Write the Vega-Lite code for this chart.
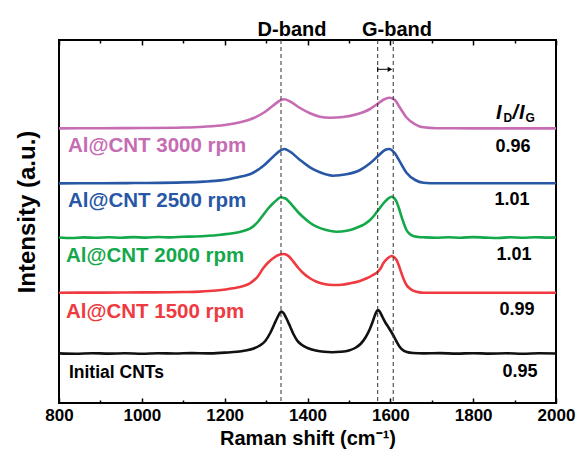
{
  "$schema": "https://vega.github.io/schema/vega-lite/v6.json",
  "width": 497,
  "height": 363,
  "autosize": {"type": "none"},
  "padding": {"left": 59, "top": 40, "right": 21, "bottom": 52},
  "background": "white",
  "config": {
    "view": {"stroke": "#000", "strokeWidth": 2},
    "font": "Liberation Sans",
    "axis": {"labelFont": "Liberation Sans", "titleFont": "Liberation Sans", "labelFontWeight": "bold", "titleFontWeight": "bold", "labelColor": "#000", "titleColor": "#000", "tickColor": "#000", "tickWidth": 1.5, "grid": false, "domain": false}
  },
  "datasets": {
    "curves": [
      {"s":"p","x":800,"y":274.6},{"s":"p","x":900,"y":274.8},{"s":"p","x":1000,"y":275.0},{"s":"p","x":1100,"y":275.5},{"s":"p","x":1150,"y":276.3},{"s":"p","x":1200,"y":278.0},{"s":"p","x":1240,"y":281.0},{"s":"p","x":1270,"y":285.0},{"s":"p","x":1295,"y":290.5},{"s":"p","x":1317,"y":297.5},{"s":"p","x":1334,"y":302.5},{"s":"p","x":1344,"y":303.7},{"s":"p","x":1358,"y":301.5},{"s":"p","x":1382,"y":295.0},{"s":"p","x":1406,"y":289.7},{"s":"p","x":1430,"y":286.3},{"s":"p","x":1454,"y":285.3},{"s":"p","x":1486,"y":286.0},{"s":"p","x":1519,"y":288.7},{"s":"p","x":1551,"y":294.0},{"s":"p","x":1571,"y":299.7},{"s":"p","x":1587,"y":304.0},{"s":"p","x":1599,"y":305.3},{"s":"p","x":1611,"y":303.0},{"s":"p","x":1623,"y":295.5},{"s":"p","x":1639,"y":285.5},{"s":"p","x":1660,"y":278.7},{"s":"p","x":1680,"y":275.7},{"s":"p","x":1712,"y":274.8},{"s":"p","x":1750,"y":274.7},{"s":"p","x":1850,"y":274.6},{"s":"p","x":2000,"y":274.6},
      {"s":"b","x":800,"y":219.6},{"s":"b","x":900,"y":219.8},{"s":"b","x":1000,"y":220.0},{"s":"b","x":1100,"y":220.6},{"s":"b","x":1150,"y":221.4},{"s":"b","x":1190,"y":222.6},{"s":"b","x":1213,"y":224.0},{"s":"b","x":1240,"y":226.5},{"s":"b","x":1261,"y":228.7},{"s":"b","x":1293,"y":237.0},{"s":"b","x":1317,"y":246.3},{"s":"b","x":1334,"y":252.3},{"s":"b","x":1344,"y":254.0},{"s":"b","x":1358,"y":251.3},{"s":"b","x":1382,"y":243.0},{"s":"b","x":1406,"y":235.7},{"s":"b","x":1430,"y":230.7},{"s":"b","x":1461,"y":227.3},{"s":"b","x":1494,"y":228.7},{"s":"b","x":1527,"y":233.0},{"s":"b","x":1551,"y":239.7},{"s":"b","x":1571,"y":247.3},{"s":"b","x":1587,"y":253.0},{"s":"b","x":1597,"y":254.0},{"s":"b","x":1611,"y":249.7},{"s":"b","x":1623,"y":241.3},{"s":"b","x":1639,"y":230.3},{"s":"b","x":1660,"y":223.0},{"s":"b","x":1680,"y":220.3},{"s":"b","x":1712,"y":219.7},{"s":"b","x":1800,"y":219.7},{"s":"b","x":2000,"y":219.7},
      {"s":"g","x":800,"y":165.5},{"s":"g","x":830,"y":165.0},{"s":"g","x":860,"y":165.6},{"s":"g","x":890,"y":165.2},{"s":"g","x":920,"y":165.8},{"s":"g","x":950,"y":165.3},{"s":"g","x":980,"y":165.9},{"s":"g","x":1010,"y":165.4},{"s":"g","x":1040,"y":166.0},{"s":"g","x":1070,"y":165.6},{"s":"g","x":1100,"y":166.2},{"s":"g","x":1130,"y":166.5},{"s":"g","x":1160,"y":167.2},{"s":"g","x":1190,"y":168.3},{"s":"g","x":1220,"y":169.7},{"s":"g","x":1245,"y":172.0},{"s":"g","x":1261,"y":174.3},{"s":"g","x":1280,"y":181.0},{"s":"g","x":1293,"y":188.0},{"s":"g","x":1305,"y":194.5},{"s":"g","x":1317,"y":199.7},{"s":"g","x":1327,"y":203.5},{"s":"g","x":1335,"y":205.7},{"s":"g","x":1341,"y":205.2},{"s":"g","x":1346,"y":204.7},{"s":"g","x":1355,"y":201.5},{"s":"g","x":1366,"y":196.3},{"s":"g","x":1378,"y":190.5},{"s":"g","x":1390,"y":185.7},{"s":"g","x":1405,"y":180.5},{"s":"g","x":1422,"y":176.3},{"s":"g","x":1445,"y":173.0},{"s":"g","x":1470,"y":171.3},{"s":"g","x":1495,"y":172.2},{"s":"g","x":1519,"y":175.3},{"s":"g","x":1537,"y":178.7},{"s":"g","x":1551,"y":183.0},{"s":"g","x":1562,"y":188.0},{"s":"g","x":1571,"y":193.0},{"s":"g","x":1582,"y":199.0},{"s":"g","x":1591,"y":203.0},{"s":"g","x":1603,"y":206.3},{"s":"g","x":1609,"y":205.0},{"s":"g","x":1615,"y":201.3},{"s":"g","x":1621,"y":194.5},{"s":"g","x":1627,"y":186.3},{"s":"g","x":1633,"y":179.0},{"s":"g","x":1639,"y":173.0},{"s":"g","x":1647,"y":169.0},{"s":"g","x":1655,"y":167.0},{"s":"g","x":1668,"y":166.0},{"s":"g","x":1680,"y":165.7},{"s":"g","x":1710,"y":165.2},{"s":"g","x":1740,"y":165.8},{"s":"g","x":1770,"y":165.3},{"s":"g","x":1800,"y":165.9},{"s":"g","x":1830,"y":165.4},{"s":"g","x":1860,"y":165.0},{"s":"g","x":1890,"y":165.7},{"s":"g","x":1920,"y":165.2},{"s":"g","x":1950,"y":165.8},{"s":"g","x":1980,"y":165.4},{"s":"g","x":2000,"y":165.6},
      {"s":"r","x":800,"y":110.3},{"s":"r","x":900,"y":110.4},{"s":"r","x":1000,"y":110.6},{"s":"r","x":1100,"y":111.0},{"s":"r","x":1140,"y":111.4},{"s":"r","x":1180,"y":112.5},{"s":"r","x":1220,"y":114.7},{"s":"r","x":1245,"y":117.0},{"s":"r","x":1261,"y":119.7},{"s":"r","x":1280,"y":126.5},{"s":"r","x":1293,"y":134.7},{"s":"r","x":1305,"y":140.5},{"s":"r","x":1317,"y":144.7},{"s":"r","x":1330,"y":148.0},{"s":"r","x":1343,"y":149.0},{"s":"r","x":1354,"y":147.0},{"s":"r","x":1366,"y":141.3},{"s":"r","x":1378,"y":135.0},{"s":"r","x":1390,"y":129.7},{"s":"r","x":1405,"y":125.0},{"s":"r","x":1422,"y":121.3},{"s":"r","x":1440,"y":119.0},{"s":"r","x":1462,"y":118.0},{"s":"r","x":1483,"y":118.3},{"s":"r","x":1503,"y":119.7},{"s":"r","x":1525,"y":121.8},{"s":"r","x":1543,"y":124.7},{"s":"r","x":1558,"y":128.0},{"s":"r","x":1570,"y":131.3},{"s":"r","x":1577,"y":135.0},{"s":"r","x":1583,"y":139.7},{"s":"r","x":1593,"y":144.5},{"s":"r","x":1603,"y":147.0},{"s":"r","x":1610,"y":145.5},{"s":"r","x":1615,"y":143.0},{"s":"r","x":1621,"y":137.0},{"s":"r","x":1627,"y":129.7},{"s":"r","x":1633,"y":123.0},{"s":"r","x":1639,"y":118.0},{"s":"r","x":1647,"y":114.5},{"s":"r","x":1655,"y":112.3},{"s":"r","x":1668,"y":110.9},{"s":"r","x":1680,"y":110.3},{"s":"r","x":1800,"y":110.3},{"s":"r","x":2000,"y":110.3},
      {"s":"k","x":800,"y":49.6},{"s":"k","x":840,"y":49.3},{"s":"k","x":880,"y":49.8},{"s":"k","x":920,"y":49.4},{"s":"k","x":960,"y":49.7},{"s":"k","x":1000,"y":49.3},{"s":"k","x":1040,"y":49.8},{"s":"k","x":1080,"y":49.5},{"s":"k","x":1120,"y":49.9},{"s":"k","x":1160,"y":49.6},{"s":"k","x":1200,"y":50.4},{"s":"k","x":1230,"y":51.2},{"s":"k","x":1250,"y":52.5},{"s":"k","x":1270,"y":54.5},{"s":"k","x":1285,"y":57.5},{"s":"k","x":1298,"y":62.0},{"s":"k","x":1310,"y":70.0},{"s":"k","x":1320,"y":79.0},{"s":"k","x":1328,"y":86.0},{"s":"k","x":1333,"y":90.0},{"s":"k","x":1337,"y":91.5},{"s":"k","x":1342,"y":90.0},{"s":"k","x":1348,"y":85.5},{"s":"k","x":1357,"y":77.5},{"s":"k","x":1366,"y":69.0},{"s":"k","x":1375,"y":62.5},{"s":"k","x":1385,"y":58.5},{"s":"k","x":1400,"y":55.0},{"s":"k","x":1420,"y":52.5},{"s":"k","x":1440,"y":51.2},{"s":"k","x":1460,"y":50.8},{"s":"k","x":1480,"y":51.2},{"s":"k","x":1500,"y":52.5},{"s":"k","x":1515,"y":55.0},{"s":"k","x":1528,"y":59.0},{"s":"k","x":1540,"y":65.5},{"s":"k","x":1550,"y":73.5},{"s":"k","x":1558,"y":82.0},{"s":"k","x":1564,"y":89.0},{"s":"k","x":1570,"y":92.9},{"s":"k","x":1575,"y":91.0},{"s":"k","x":1581,"y":86.0},{"s":"k","x":1588,"y":80.5},{"s":"k","x":1595,"y":76.0},{"s":"k","x":1601,"y":72.0},{"s":"k","x":1608,"y":67.0},{"s":"k","x":1615,"y":61.5},{"s":"k","x":1622,"y":56.5},{"s":"k","x":1630,"y":53.0},{"s":"k","x":1640,"y":51.0},{"s":"k","x":1655,"y":50.0},{"s":"k","x":1680,"y":49.6},{"s":"k","x":1720,"y":49.9},{"s":"k","x":1760,"y":49.4},{"s":"k","x":1800,"y":49.8},{"s":"k","x":1840,"y":49.4},{"s":"k","x":1880,"y":49.7},{"s":"k","x":1920,"y":49.3},{"s":"k","x":1960,"y":49.7},{"s":"k","x":2000,"y":49.5}
    ],
    "bands": [{"x": 1336}, {"x": 1569.5}, {"x": 1607}],
    "names": [
      {"s":"p","x":821.7,"y":251.3,"t":"Al@CNT 3000 rpm"},
      {"s":"b","x":821.7,"y":196.3,"t":"Al@CNT 2500 rpm"},
      {"s":"g","x":816.9,"y":140.7,"t":"Al@CNT 2000 rpm"},
      {"s":"r","x":816.9,"y":85.5,"t":"Al@CNT 1500 rpm"}
    ],
    "initial": [{"x": 824, "y": 25, "t": "Initial CNTs"}],
    "ratios": [
      {"x":1896.2,"y":251.3,"t":"0.96"},
      {"x":1893.8,"y":198,"t":"1.01"},
      {"x":1898.6,"y":143.5,"t":"1.01"},
      {"x":1905.8,"y":88,"t":"0.99"},
      {"x":1913.1,"y":26.4,"t":"0.95"}
    ],
    "bandnames": [{"x":1362.6,"y":367,"t":"D-band"},{"x":1616.1,"y":367,"t":"G-band"}],
    "ibig": [{"x":1855.2,"y":284,"t":"I"},{"x":1894.9,"y":284,"t":"/"},{"x":1910.7,"y":284,"t":"I"}],
    "isub": [{"x":1873.3,"y":281.5,"t":"D"},{"x":1926.3,"y":281.5,"t":"G"}],
    "arrow": [{"x": 1569.5, "x2": 1600, "y": 333.7}],
    "arrowtick": [{"x": 1569.5, "y": 331.3, "y2": 336.1}],
    "arrowhead": [{"x": 1599, "y": 333.7}]
  },
  "layer": [
    {
      "data": {"name": "curves"},
      "mark": {"type": "line", "strokeWidth": 2.6, "interpolate": "monotone"},
      "encoding": {
        "x": {"field": "x", "type": "quantitative", "scale": {"domain": [800, 2000], "nice": false, "zero": false},
              "axis": {"orient": "bottom", "values": [800, 1000, 1200, 1400, 1600, 1800, 2000], "format": "d", "tickSize": -5, "labelPadding": 9, "labelFontSize": 17, "title": "Raman shift (cm⁻¹)", "titleFontSize": 20, "titlePadding": 5, "labelFlush": false}},
        "y": {"field": "y", "type": "quantitative", "scale": {"domain": [0, 363], "nice": false, "zero": false},
              "axis": {"title": "Intensity (a.u.)", "ticks": false, "labels": false, "titleFontSize": 24, "titlePadding": 20, "titleY": 171.5}},
        "color": {"field": "s", "type": "nominal", "scale": {"domain": ["p", "b", "g", "r", "k"], "range": ["#C66CB3", "#2857A6", "#14A84B", "#EE3A40", "#111111"]}, "legend": null},
        "detail": {"field": "s"}
      }
    },
    {
      "data": {"name": "bands"},
      "mark": {"type": "rule", "color": "#333", "strokeWidth": 1, "strokeDash": [4, 3]},
      "encoding": {
        "x": {"field": "x", "type": "quantitative", "axis": {"orient": "bottom", "values": [900, 1100, 1300, 1500, 1700, 1900], "tickSize": -3, "labels": false, "title": null}}
      }
    },
    {
      "data": {"name": "bandnames"},
      "mark": {"type": "text", "fontSize": 20, "fontWeight": "bold", "align": "center", "baseline": "alphabetic", "color": "#000"},
      "encoding": {
        "x": {"field": "x", "type": "quantitative", "axis": {"orient": "top", "values": [800, 1000, 1200, 1400, 1600, 1800, 2000], "tickSize": -5, "labels": false, "title": null}},
        "y": {"field": "y", "type": "quantitative", "axis": {"title": "Intensity (a.u.)", "ticks": false, "labels": false, "titleFontSize": 24, "titlePadding": 20, "titleY": 171.5}},
        "text": {"field": "t"}
      }
    },
    {
      "data": {"name": "arrow"},
      "mark": {"type": "rule", "color": "#000", "strokeWidth": 1},
      "encoding": {
        "x": {"field": "x", "type": "quantitative", "axis": {"orient": "top", "values": [900, 1100, 1300, 1500, 1700, 1900], "tickSize": -3, "labels": false, "title": null}},
        "x2": {"field": "x2"},
        "y": {"field": "y", "type": "quantitative", "axis": {"title": "Intensity (a.u.)", "ticks": false, "labels": false, "titleFontSize": 24, "titlePadding": 20, "titleY": 171.5}}
      }
    },
    {
      "data": {"name": "arrowtick"},
      "mark": {"type": "rule", "color": "#000", "strokeWidth": 1},
      "encoding": {
        "x": {"field": "x", "type": "quantitative", "axis": null},
        "y": {"field": "y", "type": "quantitative"},
        "y2": {"field": "y2"}
      }
    },
    {
      "data": {"name": "arrowhead"},
      "mark": {"type": "point", "shape": "triangle-right", "filled": true, "color": "#000", "size": 28, "opacity": 1},
      "encoding": {
        "x": {"field": "x", "type": "quantitative", "axis": null},
        "y": {"field": "y", "type": "quantitative"}
      }
    },
    {
      "data": {"name": "names"},
      "mark": {"type": "text", "fontSize": 20.5, "fontWeight": "bold", "align": "left", "baseline": "alphabetic"},
      "encoding": {
        "x": {"field": "x", "type": "quantitative", "axis": null},
        "y": {"field": "y", "type": "quantitative"},
        "text": {"field": "t"},
        "color": {"field": "s", "type": "nominal", "legend": null}
      }
    },
    {
      "data": {"name": "initial"},
      "mark": {"type": "text", "fontSize": 17.5, "fontWeight": "bold", "align": "left", "baseline": "alphabetic", "color": "#000"},
      "encoding": {
        "x": {"field": "x", "type": "quantitative", "axis": null},
        "y": {"field": "y", "type": "quantitative"},
        "text": {"field": "t"}
      }
    },
    {
      "data": {"name": "ratios"},
      "mark": {"type": "text", "fontSize": 18, "fontWeight": "bold", "align": "center", "baseline": "alphabetic", "color": "#000"},
      "encoding": {
        "x": {"field": "x", "type": "quantitative", "axis": null},
        "y": {"field": "y", "type": "quantitative"},
        "text": {"field": "t"}
      }
    },
    {
      "data": {"name": "ibig"},
      "mark": {"type": "text", "fontSize": 20, "fontWeight": "bold", "fontStyle": "italic", "align": "left", "baseline": "alphabetic", "color": "#000"},
      "encoding": {
        "x": {"field": "x", "type": "quantitative", "axis": null},
        "y": {"field": "y", "type": "quantitative"},
        "text": {"field": "t"}
      }
    },
    {
      "data": {"name": "isub"},
      "mark": {"type": "text", "fontSize": 12, "fontWeight": "bold", "align": "left", "baseline": "alphabetic", "color": "#000"},
      "encoding": {
        "x": {"field": "x", "type": "quantitative", "axis": null},
        "y": {"field": "y", "type": "quantitative"},
        "text": {"field": "t"}
      }
    }
  ],
  "resolve": {"axis": {"x": "independent"}}
}
